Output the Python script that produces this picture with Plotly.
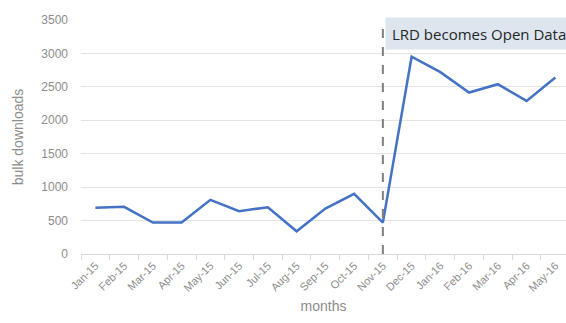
import plotly.graph_objects as go

months = ["Jan-15", "Feb-15", "Mar-15", "Apr-15", "May-15", "Jun-15", "Jul-15", "Aug-15",
          "Sep-15", "Oct-15", "Nov-15", "Dec-15", "Jan-16", "Feb-16", "Mar-16", "Apr-16", "May-16"]
downloads = [690, 705, 470, 470, 810, 640, 700, 340, 680, 900, 470, 2950, 2720, 2415, 2540, 2290, 2640]
event_month = "Nov-15"
event_label = "LRD becomes Open Data"

gray = "#8c8c8c"
fig = go.Figure()
fig.add_trace(go.Scatter(x=months, y=downloads, mode="lines",
                         line=dict(color="#4472C4", width=2.5), showlegend=False))

ev_idx = months.index(event_month)
fig.add_shape(type="line", xref="x", yref="y", x0=ev_idx, x1=ev_idx, y0=0, y1=3500,
              line=dict(color="#7f7f7f", width=2, dash="dash"))

fig.add_annotation(text=event_label, xref="x", yref="paper", x=ev_idx, y=1.012,
                   xanchor="left", yanchor="top", xshift=2, showarrow=False,
                   align="left", width=196, height=19, borderpad=6,
                   bgcolor="#dde5ef", font=dict(family="Open Sans", size=15, color="#262626"))

fig.update_layout(
    width=566, height=323,
    margin=dict(l=81, r=0, t=20, b=69),
    paper_bgcolor="white", plot_bgcolor="white",
    font=dict(family="Liberation Sans, Arial", color=gray),
    xaxis=dict(type="category", range=[-0.5, 16.37], tickson="boundaries",
               ticks="outside", ticklen=5, tickcolor="#d9d9d9", showgrid=False,
               showline=True, linecolor="#d9d9d9", linewidth=1, tickangle=-45,
               tickfont=dict(size=11, color=gray),
               title=dict(text="months", font=dict(size=14, color=gray), standoff=8)),
    yaxis=dict(range=[0, 3500], dtick=500, showgrid=True, gridcolor="#e3e3e3",
               zeroline=False, showline=False, ticks="", ticklabelstandoff=12,
               tickfont=dict(size=12, color=gray),
               title=dict(text="bulk downloads", font=dict(size=14, color=gray), standoff=14)),
)

fig.write_html("out.html")
